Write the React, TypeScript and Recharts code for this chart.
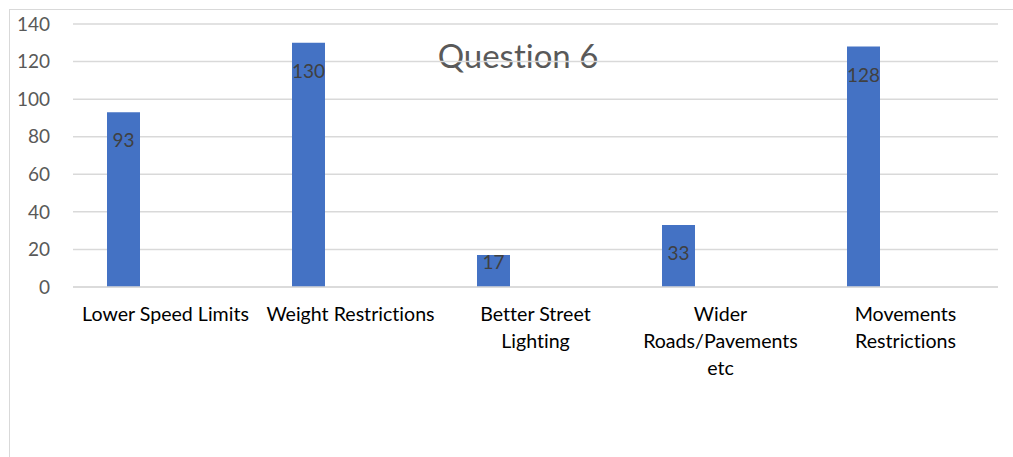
import React from "react";
import { BarChart, Bar, XAxis, YAxis, CartesianGrid, LabelList } from "recharts";

const categories = [
  "Lower Speed Limits",
  "Weight Restrictions",
  "Better Street\nLighting",
  "Wider\nRoads/Pavements\netc",
  "Movements\nRestrictions",
];
const responses = [93, 130, 17, 33, 128];
const yTicks = [0, 20, 40, 60, 80, 100, 120, 140];

const data = categories.map((name, i) => ({ name, value: responses[i] }));

const FONT = "Lato, 'Open Sans', sans-serif";
const noLig = { fontVariantLigatures: "none" as const, fontFeatureSettings: '"liga" 0, "dlig" 0' };

const CategoryTick = (props: any) => {
  const { x, y, payload } = props;
  const lines = String(payload.value).split("\n");
  return (
    <g>
      {lines.map((line: string, i: number) => (
        <text
          key={i}
          x={x}
          y={y + 26 + i * 27}
          textAnchor="middle"
          fontSize={19.6}
          fontFamily={FONT}
          fill="#000"
          style={noLig}
        >
          {line}
        </text>
      ))}
    </g>
  );
};

const renderLabel = (props: any) => {
  const { x, y, width, height, value } = props;
  const cy = height > 45 ? y + 27.5 : y + 6;
  return (
    <text
      x={x + width / 2}
      y={cy}
      textAnchor="middle"
      dominantBaseline="central"
      fontSize={19}
      fontFamily={FONT}
      fill="#404040"
    >
      {value}
    </text>
  );
};

const App = () => {
  return (
    <div
      style={{
        position: "absolute",
        left: 0,
        top: 0,
        width: 1013,
        height: 457,
        overflow: "hidden",
        background: "#fff",
      }}
    >
      <div
        style={{
          position: "absolute",
          left: 9,
          top: 9,
          width: 1040,
          height: 480,
          borderLeft: "1.5px solid #d9d9d9",
          borderTop: "1.5px solid #d9d9d9",
        }}
      />
      <div
        style={{
          position: "absolute",
          left: 0,
          width: 1036,
          top: 35,
          textAlign: "center",
          fontFamily: FONT,
          fontSize: 33,
          color: "#595959",
          lineHeight: "40px",
          ...noLig,
        }}
      >
        Question 6
      </div>
      <div style={{ position: "absolute", left: 0, top: 0 }}>
        <BarChart
          width={1013}
          height={457}
          data={data}
          margin={{ top: 24, right: 15, bottom: 110, left: 0 }}
          barSize={33}
          barGap={9}
        >
          <CartesianGrid vertical={false} stroke="#d9d9d9" strokeWidth={1.5} />
          <XAxis
            dataKey="name"
            height={60}
            axisLine={{ stroke: "#d9d9d9", strokeWidth: 1.5 }}
            tickLine={false}
            tick={<CategoryTick />}
            interval={0}
          />
          <YAxis
            width={73}
            domain={[0, 140]}
            ticks={yTicks}
            axisLine={false}
            tickLine={false}
            tickSize={6}
            tickMargin={17}
            tick={{ fontSize: 19, fontFamily: FONT, fill: "#595959" }}
          />
          <Bar dataKey="value" fill="#4472C4" isAnimationActive={false}>
            <LabelList dataKey="value" content={renderLabel} />
          </Bar>
          <Bar dataKey="series2" fill="#ED7D31" isAnimationActive={false} />
          <Bar dataKey="series3" fill="#A5A5A5" isAnimationActive={false} />
        </BarChart>
      </div>
    </div>
  );
};

export default App;
